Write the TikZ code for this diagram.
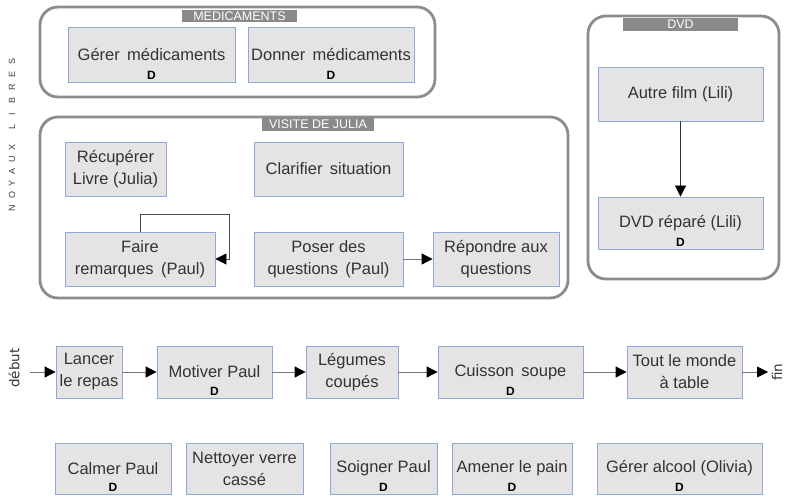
\documentclass[tikz,border=0pt]{standalone}
\usepackage{fontspec}
\setmainfont{Liberation Sans}
\newfontfamily\dejavu{DejaVu Sans}
\usetikzlibrary{arrows.meta}
\definecolor{boxfill}{HTML}{E4E4E4}
\definecolor{boxline}{HTML}{8EA9D6}
\definecolor{txt}{HTML}{333333}
\definecolor{frame}{HTML}{8C8C8C}
\definecolor{tabfill}{HTML}{8A8A8A}
\definecolor{conn}{HTML}{777777}
\tikzset{
  box/.style={draw=boxline, line width=0.8pt, fill=boxfill, text=txt,
    align=center, inner xsep=1pt, inner ysep=0pt,
    font=\fontsize{16.5}{22}\selectfont},
  dbox/.style={box, label={[anchor=south, inner sep=3pt, text=black,
    font=\fontsize{12}{13}\selectfont\bfseries]south:D}},
  container/.style={draw=frame, line width=2.8pt, rounded corners=18pt},
  tab/.style={fill=tabfill, text=white, inner sep=0pt,
    font=\fontsize{12.5}{13}\selectfont},
  conline/.style={draw=conn, line width=0.8pt,
    -{Triangle[length=11pt,width=11pt,color=black]}},
  blkline/.style={draw=black!80, line width=0.7pt,
    -{Triangle[length=11pt,width=11pt,color=black]}},
  sidetxt/.style={rotate=90, font=\dejavu\fontsize{13.5}{14}\selectfont, text=txt, inner sep=0pt},
  noyau/.style={rotate=90, font=\fontsize{9}{10}\selectfont, text=black!75, inner sep=0pt}
}
\begin{document}
\begin{tikzpicture}[x=1pt,y=-1pt]
\useasboundingbox (0,0) rectangle (785,501);

% side label
\foreach \l/\yy in {N/208,O/195,Y/183,A/171,U/159,X/147,L/127,I/114,B/100,R/87,E/74,S/61}
  \node[noyau] (nl\l\yy) at (12,\yy) {\l};

% containers
\draw[container] (40,7) rectangle (435,97);
\node[tab, minimum width=115pt, minimum height=12pt] (tabmed) at (239.5,16) {MEDICAMENTS};
\draw[container] (40,117) rectangle (568,298);
\node[tab, minimum width=112pt, minimum height=13pt] (tabvis) at (318,124.5) {VISITE DE JULIA};
\draw[container] (588,16) rectangle (779,279);
\node[tab, minimum width=115pt, minimum height=13pt] (tabdvd) at (680.5,24) {DVD};

% medicaments
\node[dbox, minimum width=167pt, minimum height=55pt] (gm) at (151.5,54.5) {Gérer\, médicaments};
\node[dbox, minimum width=166pt, minimum height=55pt] (dm) at (331,54.5) {Donner\, médicaments};

% DVD
\node[box, minimum width=165pt, minimum height=54pt] (af) at (680.5,94) {Autre film (Lili)};
\node[dbox, minimum width=165pt, minimum height=52pt] (dvd) at (680.5,223) {DVD réparé (Lili)};
\draw[blkline] (af) -- (dvd);

% visite de Julia
\node[box, minimum width=101pt, minimum height=54pt] (rl) at (115.5,169) {Récupérer\\Livre (Julia)};
\node[box, minimum width=149pt, minimum height=54pt] (cs) at (328.5,169) {Clarifier\, situation};
\node[box, minimum width=150pt, minimum height=54pt] (fr) at (140,259) {Faire\\remarques\, (Paul)};
\node[box, minimum width=149pt, minimum height=54pt] (pq) at (328.5,259) {Poser des\\questions\, (Paul)};
\node[box, minimum width=126pt, minimum height=54pt] (rq) at (496,259) {Répondre aux\\questions};
\draw[conline] (pq) -- (rq);
\draw[draw=black!70, line width=0.7pt, -{Triangle[length=11pt,width=11pt,color=black]}]
  (fr.north) -- ++(0,-17) -| ([xshift=14pt]fr.east) -- (fr.east);

% main flow
\coordinate (deb) at (30,372);
\coordinate (fn) at (768,372);
\node[sidetxt] (tdeb) at (14,368) {début};
\node[sidetxt] (tfin) at (777,372) {fin};
\node[box, minimum width=66pt, minimum height=52pt] (lr) at (89,372) {Lancer\\le repas};
\node[dbox, minimum width=115pt, minimum height=52pt] (mp) at (214.5,372) {Motiver Paul};
\node[box, minimum width=92pt, minimum height=52pt] (lc) at (352,372) {Légumes\\coupés};
\node[dbox, minimum width=145pt, minimum height=52pt] (cso) at (510.5,372) {Cuisson\, soupe};
\node[box, minimum width=115pt, minimum height=52pt] (tm) at (684.5,372) {Tout le monde\\à table};
\draw[conline] (deb) -- (lr);
\draw[conline] (lr) -- (mp);
\draw[conline] (mp) -- (lc);
\draw[conline] (lc) -- (cso);
\draw[conline] (cso) -- (tm);
\draw[conline] (tm) -- (fn);

% bottom row
\node[dbox, minimum width=116pt, minimum height=51pt] (cp) at (113,468.5) {Calmer Paul};
\node[box, minimum width=117pt, minimum height=51pt] (nv) at (244.5,468.5) {Nettoyer verre\\cassé};
\node[dbox, minimum width=107pt, minimum height=51pt] (sp) at (383.5,468.5) {Soigner Paul};
\node[dbox, minimum width=120pt, minimum height=51pt] (ap) at (512,468.5) {Amener le pain};
\node[dbox, minimum width=165pt, minimum height=51pt] (ga) at (679.5,468.5) {Gérer alcool (Olivia)};
\end{tikzpicture}
\end{document}
